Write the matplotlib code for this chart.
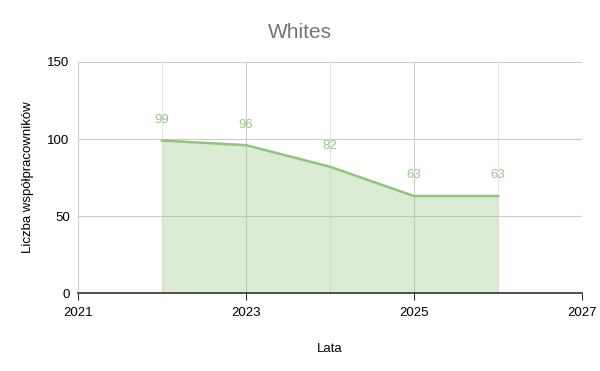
import matplotlib
matplotlib.use("Agg")
import matplotlib.pyplot as plt
from matplotlib.ticker import MultipleLocator

plt.rcParams['font.family'] = ['Liberation Sans', 'DejaVu Sans']

years = [2022, 2023, 2024, 2025, 2026]
values = [99, 96, 82, 63, 63]
labels = ["99", "96", "82", "63", "63"]

fig = plt.figure(figsize=(6, 3.71), dpi=100)
ax = fig.add_axes([0.13, 0.21, 0.84, 0.623])

line_color = "#93c47d"
ax.fill_between(years, values, 0, color=line_color, alpha=0.33, linewidth=0, zorder=2)
ax.plot(years, values, color=line_color, linewidth=1.8, zorder=3)
for x, v, t in zip(years, values, labels):
    ax.annotate(t, (x, v), xytext=(0, 10.5), textcoords="offset points",
                ha="center", va="bottom", fontsize=9.5, color="#98c987", zorder=4)

ax.set_xlim(2021, 2027)
ax.set_ylim(0, 150)
ax.xaxis.set_major_locator(MultipleLocator(2))
ax.xaxis.set_minor_locator(MultipleLocator(1))
ax.yaxis.set_major_locator(MultipleLocator(50))
ax.grid(which="major", color="#cccccc", linewidth=0.8, zorder=0)
ax.grid(which="minor", axis="x", color="#e6e6e6", linewidth=0.8, zorder=0)
ax.set_axisbelow(True)

for s in ["top", "right", "left"]:
    ax.spines[s].set_visible(False)
ax.spines["bottom"].set_color("#333333")
ax.spines["bottom"].set_linewidth(1.2)
ax.spines["bottom"].set_zorder(5)

ax.tick_params(axis="x", which="major", length=5, color="#333333", labelsize=9.5, pad=5)
ax.tick_params(axis="x", which="minor", length=0)
ax.tick_params(axis="y", length=0, labelsize=9.5, pad=6)
ax.set_xticks([2021, 2023, 2025, 2027])
ax.set_xticklabels(["2021", "2023", "2025", "2027"])

ax.set_xlabel("Lata", fontsize=9.5, labelpad=17)
ax.set_ylabel("Liczba współpracowników", fontsize=9.5, labelpad=10)
fig.text(0.5, 0.912, "Whites", ha="center", va="center", fontsize=15, color="#757575")

fig.savefig("out.png", dpi=100)
